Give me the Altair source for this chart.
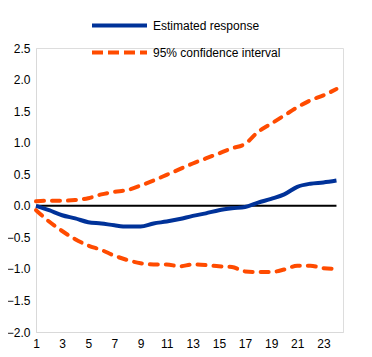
import altair as alt
import pandas as pd

months = list(range(1, 25))
estimated = [0.0, -0.07, -0.15, -0.2, -0.26, -0.28, -0.31, -0.33, -0.33, -0.28, -0.25, -0.21,
             -0.16, -0.12, -0.07, -0.04, -0.02, 0.05, 0.11, 0.18, 0.3, 0.35, 0.37, 0.4]
upper = [0.07, 0.08, 0.08, 0.09, 0.12, 0.18, 0.22, 0.25, 0.32, 0.4, 0.49, 0.58,
         0.67, 0.75, 0.83, 0.91, 0.98, 1.17, 1.3, 1.43, 1.56, 1.67, 1.75, 1.85]
lower = [-0.07, -0.25, -0.4, -0.53, -0.63, -0.7, -0.79, -0.86, -0.91, -0.93, -0.93, -0.96,
         -0.93, -0.94, -0.96, -0.97, -1.04, -1.05, -1.05, -1.01, -0.95, -0.95, -0.99, -1.0]

series_names = ["Estimated response", "95% confidence interval"]
x_ticks = list(range(1, 24, 2))
y_ticks = [-2.0, -1.5, -1.0, -0.5, 0.0, 0.5, 1.0, 1.5, 2.0, 2.5]

est_df = pd.DataFrame({"month": months, "value": estimated, "series": series_names[0]})
ci_rows = []
for m, u, l in zip(months, upper, lower):
    ci_rows.append({"month": m, "value": u, "series": series_names[1], "band": "upper"})
    ci_rows.append({"month": m, "value": l, "series": series_names[1], "band": "lower"})
ci_df = pd.DataFrame(ci_rows)

zero_df = pd.DataFrame({"x": [months[0]], "x2": [months[-1]], "y": [0.0]})

xscale = alt.Scale(domain=[1, 24.5], nice=False, zero=False)
yscale = alt.Scale(domain=[-2.0, 2.5], nice=False)

xaxis = alt.Axis(values=x_ticks, title=None, grid=False, ticks=False,
                 labelFontSize=12, labelPadding=6, domainColor="#D9D9D9",
                 labelOverlap=False, labelBound=False, labelFlush=False)
yaxis = alt.Axis(values=y_ticks, format=".1f", title=None, grid=False, ticks=False,
                 labelFontSize=12, labelPadding=6, domainColor="#D9D9D9",
                 labelOverlap=False, labelBound=False, labelFlush=False)

zero = alt.Chart(zero_df).mark_rule(color="black", strokeWidth=2).encode(
    x=alt.X("x:Q", scale=xscale, axis=xaxis),
    x2="x2:Q",
    y=alt.Y("y:Q", scale=yscale, axis=yaxis),
)

ci = alt.Chart(ci_df).mark_line(strokeWidth=4, interpolate="monotone",
                                strokeDash=[8, 8], strokeCap="round").encode(
    x=alt.X("month:Q", scale=xscale, axis=xaxis),
    y=alt.Y("value:Q", scale=yscale, axis=yaxis),
    color=alt.Color("series:N",
                    scale=alt.Scale(domain=[series_names[1]], range=["#FF4B00"]),
                    legend=alt.Legend(title=None, orient="none", legendX=54, legendY=-25,
                                      symbolType="stroke", symbolSize=3025,
                                      symbolStrokeWidth=4, symbolDash=[11, 5],
                                      labelFontSize=12, labelOffset=4, labelLimit=300)),
    detail="band:N",
)

est = alt.Chart(est_df).mark_line(strokeWidth=4, interpolate="monotone").encode(
    x=alt.X("month:Q", scale=xscale, axis=xaxis),
    y=alt.Y("value:Q", scale=yscale, axis=yaxis),
    color=alt.Color("series:N",
                    scale=alt.Scale(domain=[series_names[0]], range=["#003299"]),
                    legend=alt.Legend(title=None, orient="none", legendX=54, legendY=-52,
                                      symbolType="stroke", symbolSize=3025,
                                      symbolStrokeWidth=4, labelFontSize=12,
                                      labelOffset=4, labelLimit=300)),
)

chart = alt.layer(zero, ci, est).resolve_scale(color="independent").resolve_legend(
    color="independent"
).properties(
    width=307, height=284,
    autosize=alt.AutoSizeParams(type="none"),
    padding={"left": 28, "top": 40, "right": 13, "bottom": 17},
).configure_view(stroke=None).configure(
    font="Liberation Sans"
).configure_axis(labelColor="#000000", labelFont="Liberation Sans").configure_legend(
    labelFont="Liberation Sans", labelColor="#000000"
)

chart.save("out.html", embed_options={"renderer": "svg", "actions": False})
